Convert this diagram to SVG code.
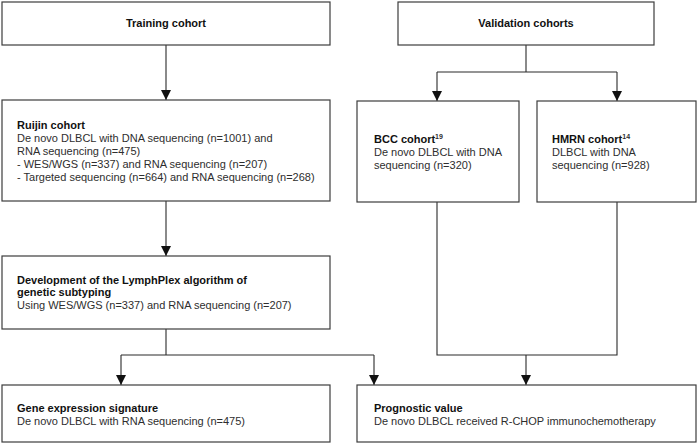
<svg xmlns="http://www.w3.org/2000/svg" width="698" height="446" viewBox="0 0 698 446">
<style>
.box{fill:#fff;stroke:#3c3c3c;stroke-width:1.2}
.t{font-family:"Liberation Sans",Arial,Helvetica,sans-serif;font-size:11px;fill:#2e2e2e}
.b{font-weight:bold;fill:#111}
.sup{font-size:7px;font-weight:bold}
.c{fill:none;stroke:#2a2a2a;stroke-width:1.1}
</style>
<defs>
<marker id="ah" markerUnits="userSpaceOnUse" markerWidth="10" markerHeight="10" refX="10" refY="5" orient="auto">
<path d="M0,0 L10,5 L0,10 z" fill="#111"/>
</marker>
</defs>
<rect width="698" height="446" fill="#fff"/>
<g id="connectors">
<path class="c" d="M166,45 V100" marker-end="url(#ah)"/>
<path class="c" d="M526,45 V72"/>
<path class="c" d="M437,72 H617"/>
<path class="c" d="M437,72 V101" marker-end="url(#ah)"/>
<path class="c" d="M617,72 V101" marker-end="url(#ah)"/>
<path class="c" d="M166,201 V256" marker-end="url(#ah)"/>
<path class="c" d="M166,329 V355"/>
<path class="c" d="M121,355 H374"/>
<path class="c" d="M121,355 V385" marker-end="url(#ah)"/>
<path class="c" d="M374,355 V385" marker-end="url(#ah)"/>
<path class="c" d="M437,202 V355 H617 V202"/>
<path class="c" d="M526,355 V385" marker-end="url(#ah)"/>
</g>
<g id="training">
<rect class="box" x="2" y="2" width="328" height="43"/>
<text class="t b" x="166" y="27" text-anchor="middle">Training cohort</text>
</g>
<g id="validation">
<rect class="box" x="398" y="2" width="256" height="43"/>
<text class="t b" x="526" y="27" text-anchor="middle">Validation cohorts</text>
</g>
<g id="ruijin">
<rect class="box" x="2" y="100" width="328" height="101"/>
<text class="t" x="17" y="129"><tspan class="b">Ruijin cohort</tspan><tspan x="17" dy="13">De novo DLBCL with DNA sequencing (n=1001) and</tspan><tspan x="17" dy="13">RNA sequencing (n=475)</tspan><tspan x="17" dy="13">- WES/WGS (n=337) and RNA sequencing (n=207)</tspan><tspan x="17" dy="13">- Targeted sequencing (n=664) and RNA sequencing (n=268)</tspan></text>
</g>
<g id="bcc">
<rect class="box" x="357" y="101" width="162" height="101"/>
<text class="t" x="374" y="143"><tspan class="b">BCC cohort</tspan><tspan class="sup" dy="-4">19</tspan><tspan x="374" dy="17">De novo DLBCL with DNA</tspan><tspan x="374" dy="13">sequencing (n=320)</tspan></text>
</g>
<g id="hmrn">
<rect class="box" x="537" y="101" width="159" height="101"/>
<text class="t" x="552" y="143"><tspan class="b">HMRN cohort</tspan><tspan class="sup" dy="-4">14</tspan><tspan x="552" dy="17">DLBCL with DNA</tspan><tspan x="552" dy="13">sequencing (n=928)</tspan></text>
</g>
<g id="development">
<rect class="box" x="2" y="256" width="328" height="73"/>
<text class="t" x="17" y="284"><tspan class="b">Development of the LymphPlex algorithm of</tspan><tspan class="b" x="17" dy="12">genetic subtyping</tspan><tspan x="17" dy="13">Using WES/WGS (n=337) and RNA sequencing (n=207)</tspan></text>
</g>
<g id="gene">
<rect class="box" x="2" y="385" width="328" height="57"/>
<text class="t" x="17" y="412"><tspan class="b">Gene expression signature</tspan><tspan x="17" dy="13">De novo DLBCL with RNA sequencing (n=475)</tspan></text>
</g>
<g id="prognostic">
<rect class="box" x="357" y="385" width="339" height="57"/>
<text class="t" x="374" y="412"><tspan class="b">Prognostic value</tspan><tspan x="374" dy="13">De novo DLBCL received R-CHOP immunochemotherapy</tspan></text>
</g>
</svg>
